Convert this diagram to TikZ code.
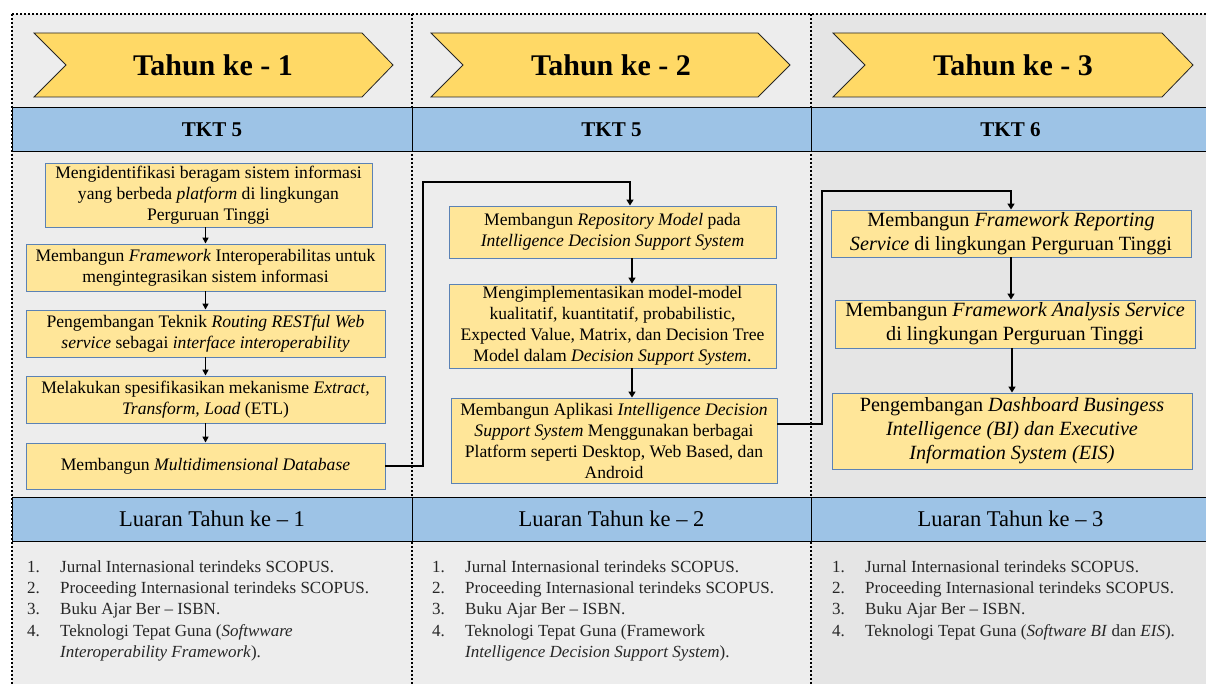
\documentclass[tikz,border=0pt]{standalone}
\usepackage{fontspec}
\setmainfont{Liberation Serif}[BoldFont={Liberation Serif Bold},ItalicFont={Liberation Serif Italic}]
\usetikzlibrary{arrows.meta}
\definecolor{colA}{HTML}{EDEDED}
\definecolor{colB}{HTML}{E5E5E5}
\definecolor{chev}{HTML}{FFD966}
\definecolor{bandc}{HTML}{9DC3E6}
\definecolor{boxf}{HTML}{FFE699}
\definecolor{boxd}{HTML}{5B82B5}
\definecolor{listc}{HTML}{262626}
\begin{document}
\begin{tikzpicture}[x=1pt,y=-1pt,
  dotline/.style={line width=2.5pt, dash pattern=on 2.2pt off 1.8pt},
  chevron/.style={draw=black!85, fill=chev, line width=0.8pt},
  yeartext/.style={font=\fontsize{30}{35}\selectfont\bfseries},
  band/.style={draw=black, fill=bandc, line width=1pt, minimum height=44pt, inner sep=0pt},
  tkt/.style={band, font=\fontsize{21}{25}\selectfont\bfseries},
  luaran/.style={band, font=\fontsize{22.5}{26}\selectfont},
  stepbox/.style={draw=boxd, fill=boxf, line width=0.9pt, align=center, inner sep=0pt, font=\fontsize{17.6}{21}\selectfont},
  bigbox/.style={stepbox, font=\fontsize{20.2}{24}\selectfont},
  conn/.style={line width=2pt, -{Triangle[width=7pt,length=6pt]}},
  shortarrow/.style={line width=1.5pt, -{Triangle[width=6pt,length=6pt]}},
  listtext/.style={anchor=north west, inner sep=0pt, text=listc, font=\fontsize{17}{21.3}\selectfont}
]
\useasboundingbox (0,0) rectangle (1206,684);
\fill[white] (0,0) rectangle (1206,684);
% column backgrounds
\fill[colA] (12,14) rectangle (412,684);
\fill[colA] (412,14) rectangle (811,684);
\fill[colB] (811,14) rectangle (1206,684);
% dotted frame
\draw[dotline] (12,14) -- (1206,14);
\draw[dotline] (12,14) -- (12,684);
\draw[dotline] (412,14) -- (412,684);
\draw[dotline] (811,14) -- (811,684);
% chevrons
\draw[chevron] (34,33) -- (362,33) -- (393,65) -- (362,97) -- (34,97) -- (66,65) -- cycle;
\draw[chevron] (431,33) -- (758,33) -- (790,65) -- (758,97) -- (431,97) -- (463,65) -- cycle;
\draw[chevron] (833,33) -- (1162,33) -- (1193,65) -- (1162,97) -- (833,97) -- (865,65) -- cycle;
\node[yeartext] (y1) at (213,65) {Tahun ke - 1};
\node[yeartext] (y2) at (611,65) {Tahun ke - 2};
\node[yeartext] (y3) at (1013,65) {Tahun ke - 3};
% TKT bands
\node[tkt, minimum width=400pt] (t1) at (212,130) {TKT 5};
\node[tkt, minimum width=399pt] (t2) at (611.5,130) {TKT 5};
\node[tkt, minimum width=399pt] (t3) at (1010.5,130) {TKT 6};
% Luaran bands
\node[luaran, minimum width=400pt] (u1) at (212,519) {Luaran Tahun ke – 1};
\node[luaran, minimum width=399pt] (u2) at (611.5,519) {Luaran Tahun ke – 2};
\node[luaran, minimum width=399pt] (u3) at (1010.5,519) {Luaran Tahun ke – 3};
% column 1 boxes
\node[stepbox, minimum width=327pt, minimum height=64pt] (b1) at (208.5,195)
  {Mengidentifikasi beragam sistem informasi\\ yang berbeda \textit{platform} di lingkungan\\ Perguruan Tinggi};
\node[stepbox, minimum width=359pt, minimum height=47pt] (b2) at (205.5,267.5)
  {Membangun \textit{Framework} Interoperabilitas untuk\\ mengintegrasikan sistem informasi};
\node[stepbox, minimum width=359pt, minimum height=47pt] (b3) at (205.5,333.5)
  {Pengembangan Teknik \textit{Routing RESTful Web}\\ \textit{service} sebagai \textit{interface interoperability}};
\node[stepbox, minimum width=359pt, minimum height=47pt] (b4) at (205.5,399.5)
  {Melakukan spesifikasikan mekanisme \textit{Extract,}\\ \textit{Transform, Load} (ETL)};
\node[stepbox, minimum width=359pt, minimum height=46pt] (b5) at (205.5,466)
  {Membangun \textit{Multidimensional Database}};
% column 2 boxes
\node[stepbox, minimum width=327pt, minimum height=52pt] (b6) at (612.5,232)
  {Membangun \textit{Repository Model} pada\\ \textit{Intelligence Decision Support System}};
\node[stepbox, minimum width=327pt, minimum height=84pt] (b7) at (612.5,326)
  {Mengimplementasikan model-model\\ kualitatif, kuantitatif, probabilistic,\\ Expected Value, Matrix, dan Decision Tree\\ Model dalam \textit{Decision Support System}.};
\node[stepbox, minimum width=326pt, minimum height=85pt] (b8) at (614,440.5)
  {Membangun Aplikasi \textit{Intelligence Decision}\\ \textit{Support System} Menggunakan berbagai\\ Platform seperti Desktop, Web Based, dan\\ Android};
% column 3 boxes
\node[bigbox, minimum width=360pt, minimum height=47pt] (b9) at (1011,233.5)
  {Membangun \textit{Framework Reporting}\\ \textit{Service} di lingkungan Perguruan Tinggi};
\node[bigbox, minimum width=360pt, minimum height=48pt] (b10) at (1015,324)
  {Membangun \textit{Framework Analysis Service}\\ di lingkungan Perguruan Tinggi};
\node[bigbox, minimum width=360pt, minimum height=76pt] (b11) at (1012,431)
  {Pengembangan \textit{Dashboard Busingess}\\ \textit{Intelligence (BI) dan Executive}\\ \textit{Information System (EIS)}};
% arrows column 1
\draw[shortarrow] (b2.north |- b1.south) -- (b2.north);
\draw[shortarrow] (b2.south) -- (b3.north);
\draw[shortarrow] (b3.south) -- (b4.north);
\draw[shortarrow] (b4.south) -- (b5.north);
% arrows column 2
\coordinate (m2) at (632,0);
\draw[conn] (b6.south -| m2) -- (b7.north -| m2);
\draw[conn] (b7.south -| m2) -- (b8.north -| m2);
% arrows column 3
\draw[conn] (b9.south) -- (b9.south |- b10.north);
\draw[conn] (b10.south -| b11.north) -- (b11.north);
% long connectors
\coordinate (k1) at (423,182);
\coordinate (k2) at (630,182);
\draw[conn] (b5.east) -| (k1) -- (k2) -- (k2 |- b6.north);
\coordinate (k3) at (822,424);
\coordinate (k4) at (822,191);
\coordinate (k5) at (1011,191);
\draw[conn] (b8.east |- k3) -- (k3) -- (k4) -- (k5) -- (k5 |- b9.north);
% lists
\node[listtext] (l1) at (27,557) {\begin{tabular}{@{}p{33pt}@{}l@{}}
1. & Jurnal Internasional terindeks SCOPUS.\\
2. & Proceeding Internasional terindeks SCOPUS.\\
3. & Buku Ajar Ber – ISBN.\\
4. & Teknologi Tepat Guna (\textit{Softwware}\\
   & \textit{Interoperability Framework}).
\end{tabular}};
\node[listtext] (l2) at (432,557) {\begin{tabular}{@{}p{33pt}@{}l@{}}
1. & Jurnal Internasional terindeks SCOPUS.\\
2. & Proceeding Internasional terindeks SCOPUS.\\
3. & Buku Ajar Ber – ISBN.\\
4. & Teknologi Tepat Guna (Framework\\
   & \textit{Intelligence Decision Support System}).
\end{tabular}};
\node[listtext] (l3) at (832,557) {\begin{tabular}{@{}p{33pt}@{}l@{}}
1. & Jurnal Internasional terindeks SCOPUS.\\
2. & Proceeding Internasional terindeks SCOPUS.\\
3. & Buku Ajar Ber – ISBN.\\
4. & Teknologi Tepat Guna (\textit{Software BI} dan \textit{EIS}).
\end{tabular}};
\end{tikzpicture}
\end{document}
